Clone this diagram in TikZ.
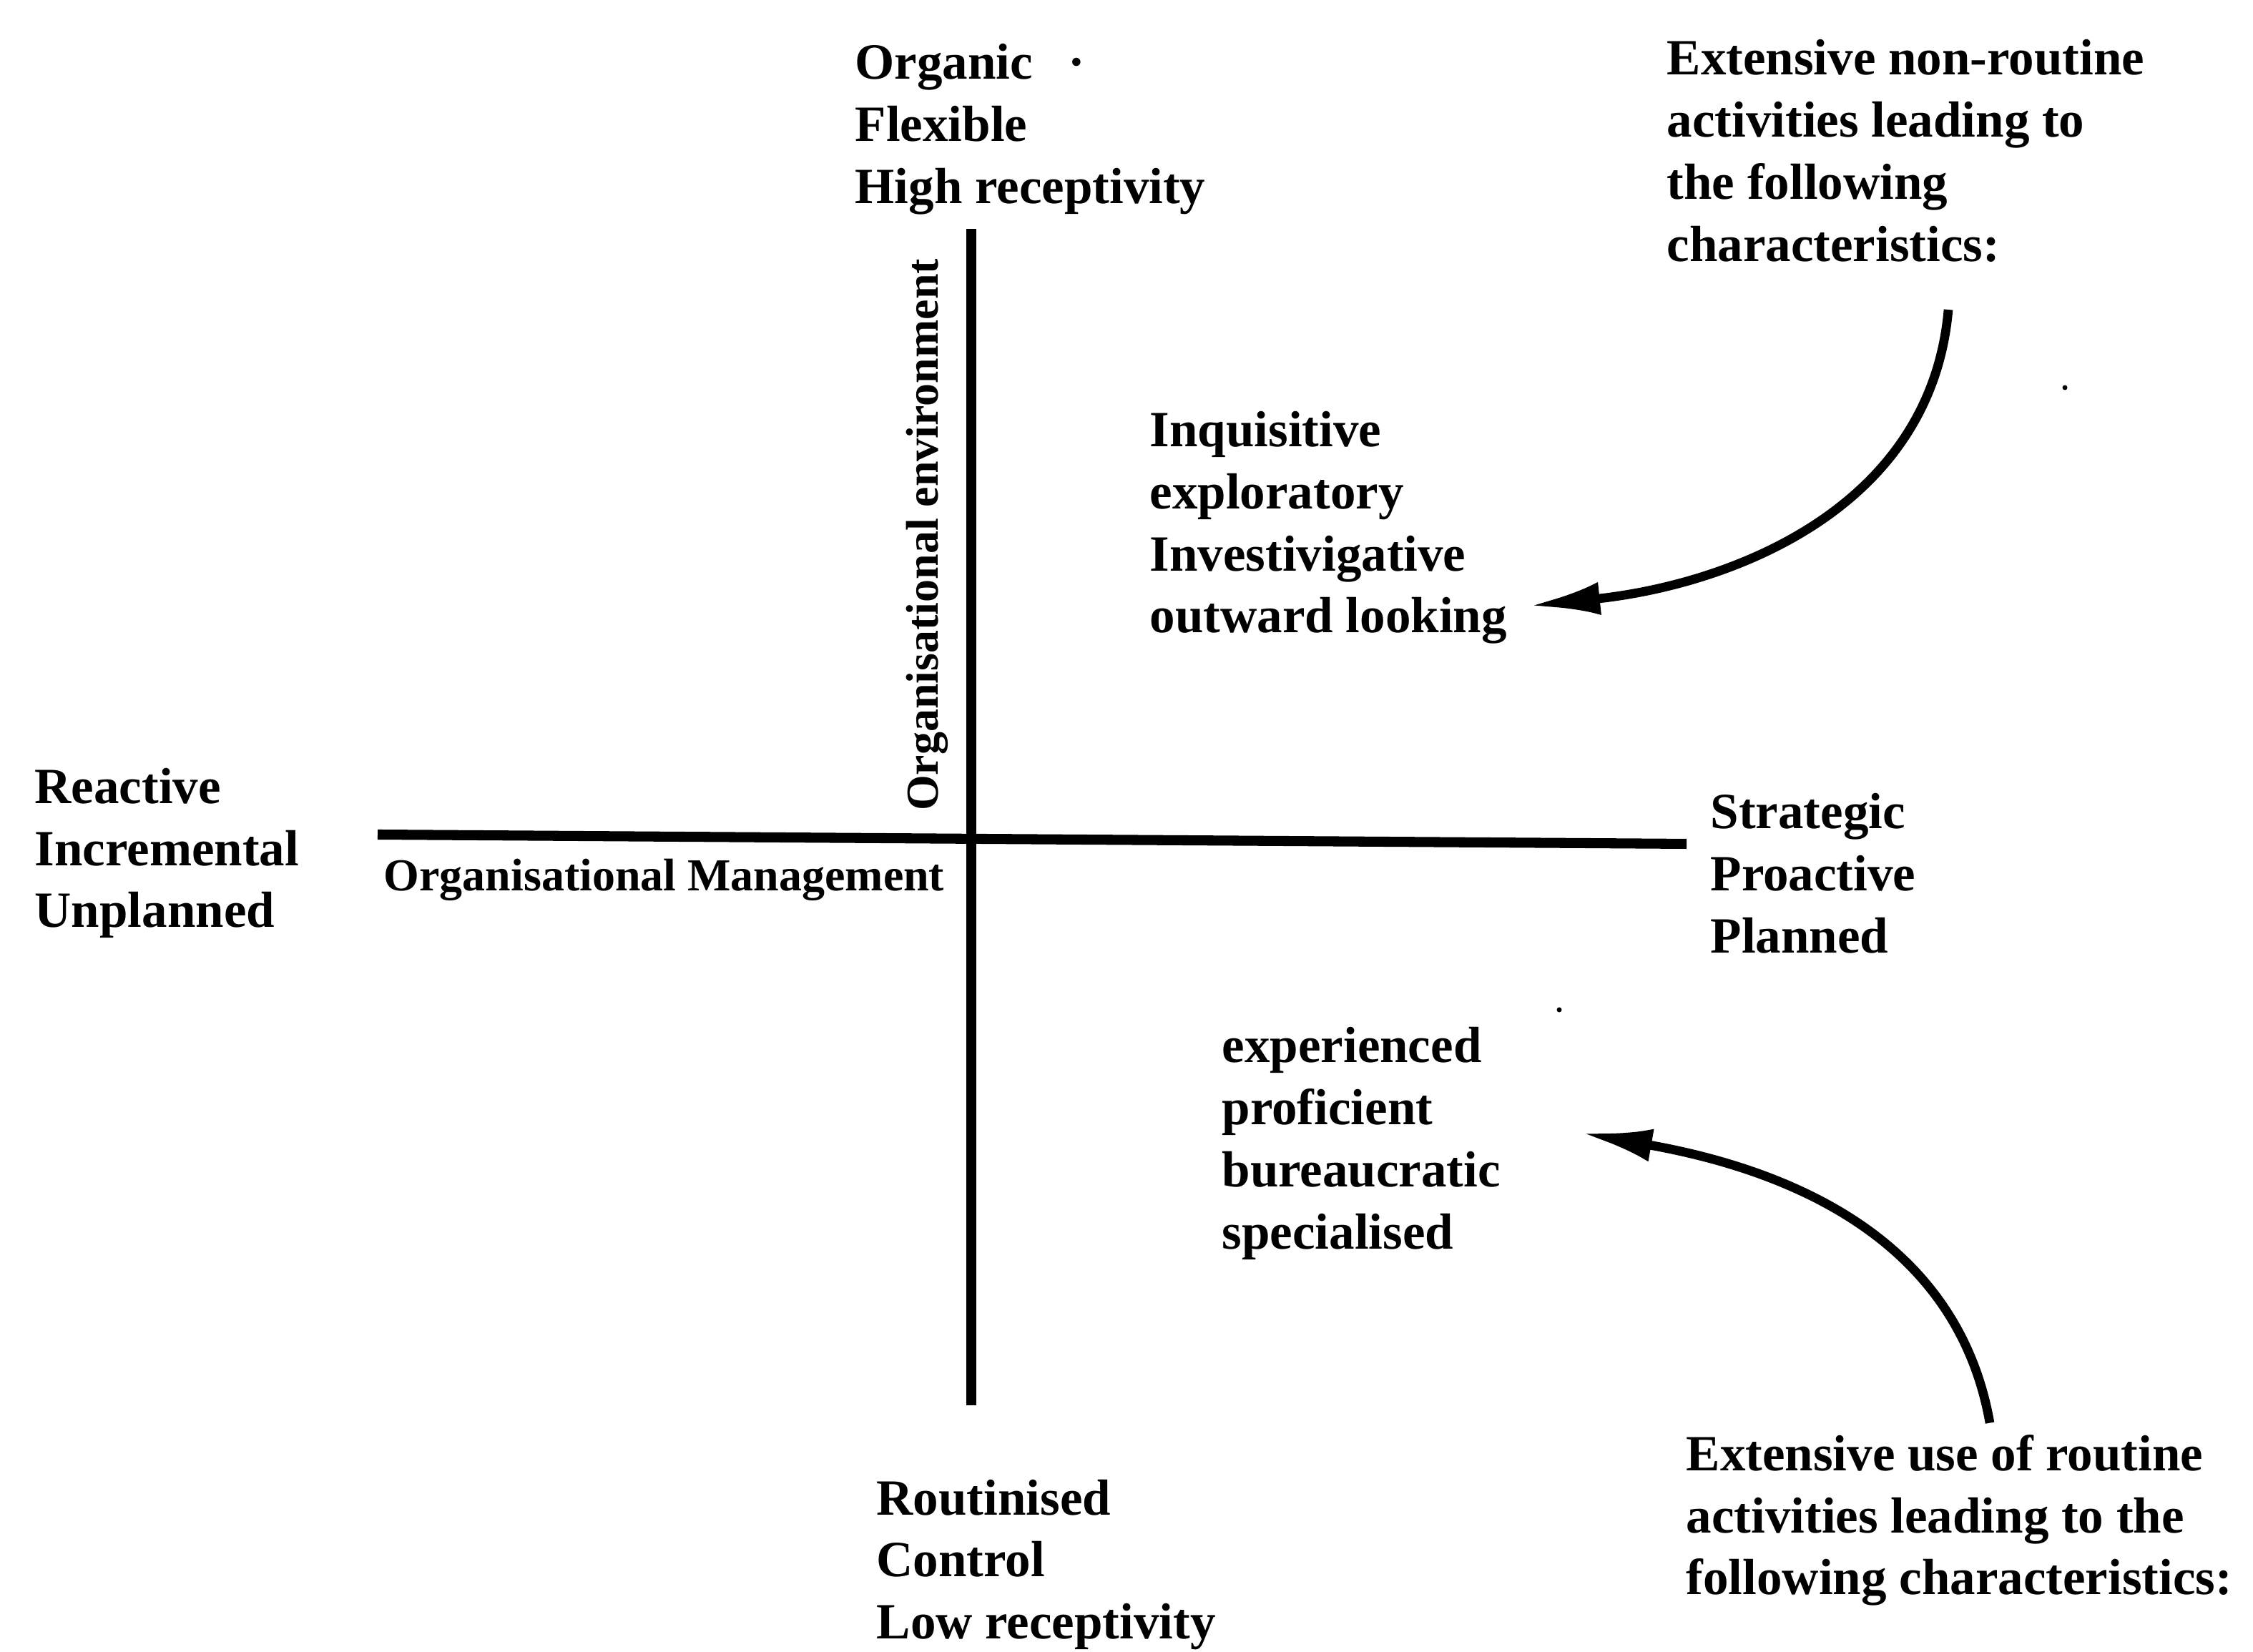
\documentclass[tikz,border=0pt]{standalone}
\usepackage{fontspec}
\setmainfont{Liberation Serif}
\usetikzlibrary{arrows.meta}

\begin{document}
\begin{tikzpicture}[
    txt/.style={font=\bfseries\fontsize{20.2}{24.7}\selectfont,align=left,anchor=west,inner sep=0pt},
    axlbl/.style={font=\bfseries\fontsize{18.2}{20}\selectfont,inner sep=0pt},
    axis/.style={line width=4pt},
    arr/.style={line width=3.6pt,-{Latex[length=10mm,width=4.6mm]}}]
      \useasboundingbox (0,0) rectangle (31.5,23.1) ;
      \coordinate (N) at (13.58,19.90) ; \coordinate (S) at (13.58,3.45) ;
      \coordinate (W) at (5.28,11.43) ; \coordinate (E) at (23.58,11.30) ;
      \draw[axis] (N)--(S) ;
      \draw[axis] (W)--(E) ;
      \node[axlbl,rotate=90] (envlbl) at (12.96,15.62) {Organisational environment} ;
      \node[axlbl,anchor=west] (mgmtlbl) at (5.36,10.80) {Organisational Management} ;
      \node[txt] (organic) at (11.95,21.29) {Organic\hspace{0.7em}·\\Flexible\\High receptivity} ;
      \node[txt] (routinised) at (12.25,1.22) {Routinised\\Control\\Low receptivity} ;
      \node[txt] (reactive) at (0.48,11.17) {Reactive\\Incremental\\Unplanned} ;
      \node[txt] (strategic) at (23.91,10.89) {Strategic\\Proactive\\Planned} ;
      \node[txt] (nonroutine) at (23.30,20.99) %
      {Extensive non-routine\\activities leading to\\the following\\characteristics:} ;
      \node[txt] (inquis) at (16.07,15.72) %
      {Inquisitive\\exploratory\\Investivigative\\outward looking} ;
      \node[txt] (exper) at (17.08,7.11) %
      {experienced\\proficient\\bureaucratic\\specialised} ;
      \node[txt] (routine) at (23.57,1.84) %
      {Extensive use of routine\\activities leading to the\\following characteristics:} ;
      \draw[arr] ([xshift=3.94cm,yshift=-0.66cm]nonroutine.south west) to[out=-95,in=6] %
      ([xshift=5.30cm,yshift=0.54cm]inquis.south west) ;
      \draw[arr] ([xshift=4.25cm,yshift=0.16cm]routine.north west) to[out=100,in=-10] %
      ([xshift=5.02cm,yshift=1.78cm]exper.south west) ;
      \fill (28.87,17.68) circle (0.035) ;
      \fill (21.80,8.98) circle (0.035) ;
    \end{tikzpicture}
\end{document}
